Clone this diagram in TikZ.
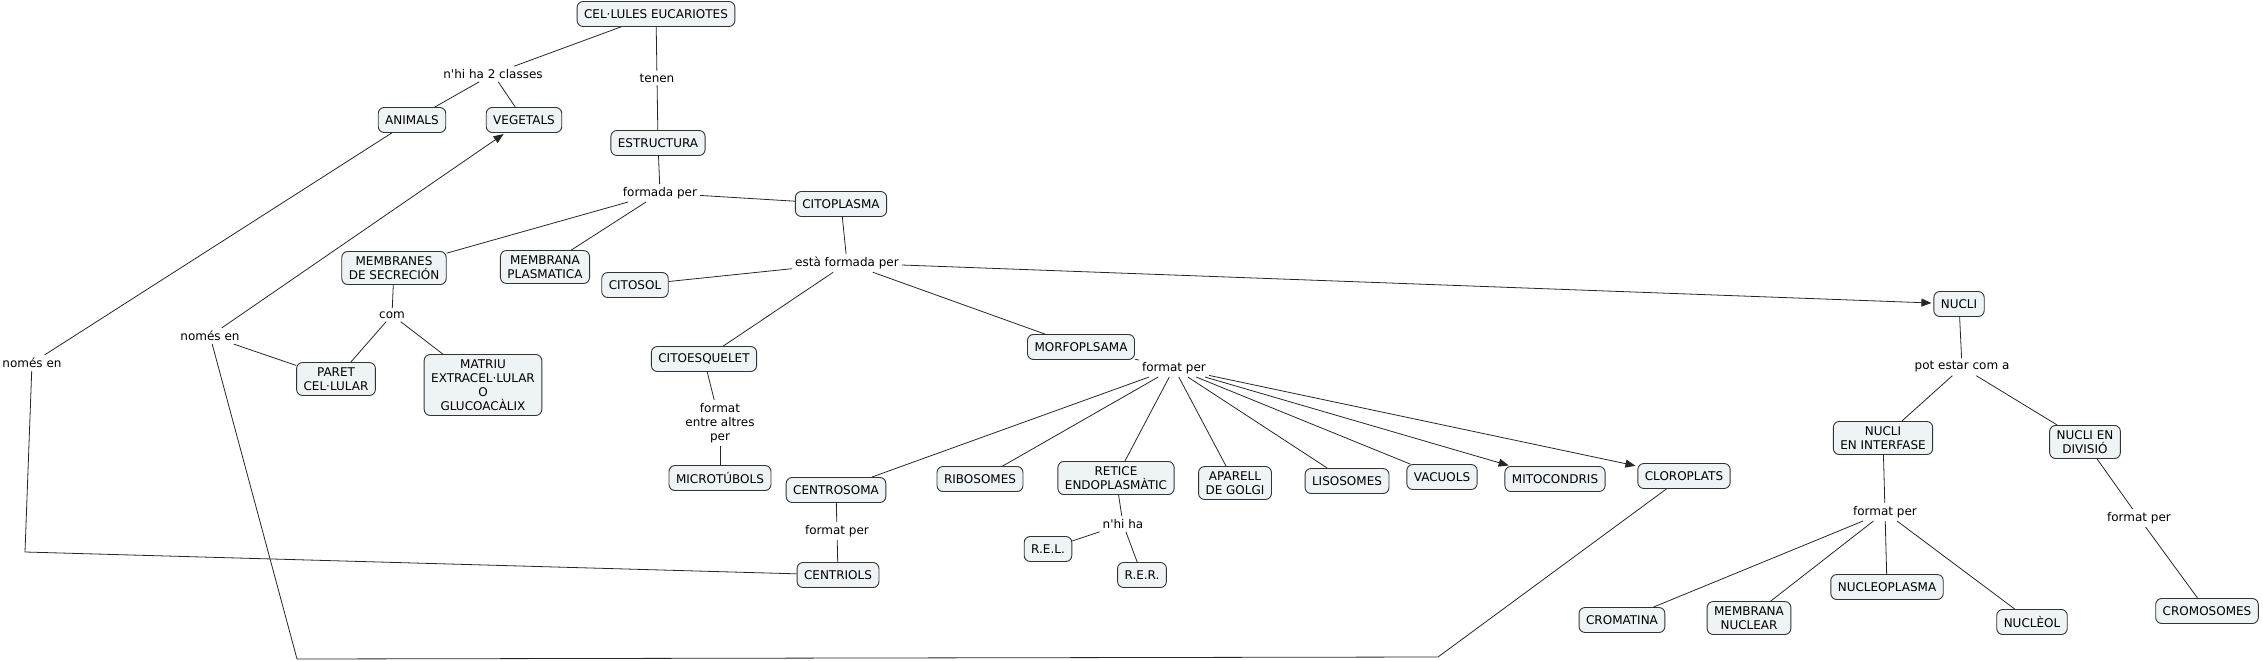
\documentclass[tikz,border=0pt]{standalone}
\usepackage{fontspec}
\setmainfont{DejaVu Sans}
\usepackage{xcolor}
\usepackage{tikz}
\usetikzlibrary{arrows.meta}

\definecolor{boxfill}{HTML}{EEF3F6}
\definecolor{boxline}{HTML}{333333}
\tikzset{
  concept/.style={draw=boxline, fill=boxfill, rounded corners=6pt, line width=0.9pt,
    align=center, inner xsep=7pt, inner ysep=5pt, minimum height=25pt,
    font=\fontsize{12}{14}\selectfont},
  phrase/.style={align=center, inner sep=3pt, font=\fontsize{12}{14}\selectfont},
  link/.style={draw=black!85, line width=0.8pt},
  arrowlink/.style={link, -{Triangle[length=10pt,width=8pt]}, shorten >=2pt}
}

\begin{document}
\begin{tikzpicture}[x=1pt,y=-1pt]
    \useasboundingbox (0,0) rectangle (2263,661);
    % concepts and linking phrases
    \node[concept] (cel) at (656,14) {CEL·LULES EUCARIOTES};
    \node[phrase] (classes) at (493,74) {n\textquotesingle hi ha 2 classes};
    \node[phrase] (tenen) at (657,78) {tenen};
    \node[concept] (animals) at (412,120) {ANIMALS};
    \node[concept] (vegetals) at (524,120) {VEGETALS};
    \node[concept] (estructura) at (658,143) {ESTRUCTURA};
    \node[phrase] (formada) at (660,193) {formada per};
    \node[concept] (citoplasma) at (841,204) {CITOPLASMA};
    \node[concept] (secrecio) at (394,268) {MEMBRANES\\DE SECRECIÓN};
    \node[concept] (plasmatica) at (545,267) {MEMBRANA\\PLASMATICA};
    \node[concept] (citosol) at (635,285) {CITOSOL};
    \node[phrase] (estaformada) at (847,263) {està formada per};
    \node[phrase] (com) at (392,315) {com};
    \node[phrase] (nomesA) at (32,363) {només en};
    \node[phrase] (nomesB) at (210,336) {només en};
    \node[concept] (paret) at (336,379) {PARET\\CEL·LULAR};
    \node[concept] (matriu) at (483,385) {MATRIU\\EXTRACEL·LULAR\\O\\GLUCOACÀLIX};
    \node[concept] (citoesquelet) at (704,359) {CITOESQUELET};
    \node[phrase] (entrealtres) at (720,423) {format\\entre altres\\per};
    \node[concept] (microtubols) at (720,478) {MICROTÚBOLS};
    \node[concept] (morfoplasma) at (1081,347) {MORFOPLSAMA};
    \node[phrase] (formatmorf) at (1174,368) {format per};
    \node[concept] (centrosoma) at (836,490) {CENTROSOMA};
    \node[phrase] (formatcentro) at (837,531) {format per};
    \node[concept] (centriols) at (838,575) {CENTRIOLS};
    \node[concept] (ribosomes) at (980,479) {RIBOSOMES};
    \node[concept] (retice) at (1116,478) {RETICE\\ENDOPLASMÀTIC};
    \node[concept] (golgi) at (1235,483) {APARELL\\DE GOLGI};
    \node[concept] (lisosomes) at (1347,481) {LISOSOMES};
    \node[concept] (vacuols) at (1442,477) {VACUOLS};
    \node[concept] (mitocondris) at (1555,479) {MITOCONDRIS};
    \node[concept] (cloroplats) at (1684,476) {CLOROPLATS};
    \node[phrase] (nhiha) at (1123,524) {n\textquotesingle hi ha};
    \node[concept] (rel) at (1048,549) {R.E.L.};
    \node[concept] (rer) at (1142,575) {R.E.R.};
    \node[concept] (nucli) at (1959,304) {NUCLI};
    \node[phrase] (potestar) at (1962,367) {pot estar com a};
    \node[concept] (interfase) at (1883,438) {NUCLI\\EN INTERFASE};
    \node[concept] (divisio) at (2085,442) {NUCLI EN\\DIVISIÓ};
    \node[phrase] (formatinter) at (1885,512) {format per};
    \node[phrase] (formatdiv) at (2139,518) {format per};
    \node[concept] (cromatina) at (1622,620) {CROMATINA};
    \node[concept] (memnuclear) at (1749,618) {MEMBRANA\\NUCLEAR};
    \node[concept] (nucleoplasma) at (1887,587) {NUCLEOPLASMA};
    \node[concept] (nucleol) at (2032,622) {NUCLÈOL};
    \node[concept] (cromosomes) at (2207,611) {CROMOSOMES};
    \coordinate (bendA) at (25,552);
    \coordinate (bendB) at (1438,657);
    \coordinate (bendC) at (297,659);

    % connectors
    \draw[link] (cel) -- (classes);
    \draw[link] (classes) -- (animals);
    \draw[link] (classes) -- (vegetals);
    \draw[link] (cel) -- (tenen);
    \draw[link] (tenen) -- (estructura);
    \draw[link] (estructura) -- (formada);
    \foreach \n in {secrecio,plasmatica,citoplasma}
        \draw[link] (formada) -- (\n);
    \draw[link] (secrecio) -- (com);
    \draw[link] (com) -- (paret);
    \draw[link] (com) -- (matriu);
    \draw[link] (paret) -- (nomesB);
    \draw[arrowlink] (nomesB) -- (vegetals);
    \draw[link] (nomesA) -- (animals);
    \draw[link] (citoplasma) -- (estaformada);
    \foreach \n in {citosol,citoesquelet,morfoplasma}
        \draw[link] (estaformada) -- (\n);
    \draw[arrowlink] (estaformada) -- (nucli);
    \draw[link] (citoesquelet) -- (entrealtres);
    \draw[link] (entrealtres) -- (microtubols);
    \draw[link] (morfoplasma) -- (formatmorf);
    \foreach \n in {centrosoma,ribosomes,retice,golgi,lisosomes,vacuols}
        \draw[link] (formatmorf) -- (\n);
    \draw[arrowlink] (formatmorf) -- (mitocondris);
    \draw[arrowlink] (formatmorf) -- (cloroplats);
    \draw[link] (centrosoma) -- (formatcentro);
    \draw[link] (formatcentro) -- (centriols);
    \draw[link] (retice) -- (nhiha);
    \draw[link] (nhiha) -- (rel);
    \draw[link] (nhiha) -- (rer);
    \draw[link] (centriols) -- (bendA) -- (nomesA);
    \draw[link] (cloroplats) -- (bendB) -- (bendC) -- (nomesB);
    \draw[link] (nucli) -- (potestar);
    \draw[link] (potestar) -- (interfase);
    \draw[link] (potestar) -- (divisio);
    \draw[link] (interfase) -- (formatinter);
    \foreach \n in {cromatina,memnuclear,nucleoplasma,nucleol}
        \draw[link] (formatinter) -- (\n);
    \draw[link] (divisio) -- (formatdiv);
    \draw[link] (formatdiv) -- (cromosomes);
\end{tikzpicture}
\end{document}
